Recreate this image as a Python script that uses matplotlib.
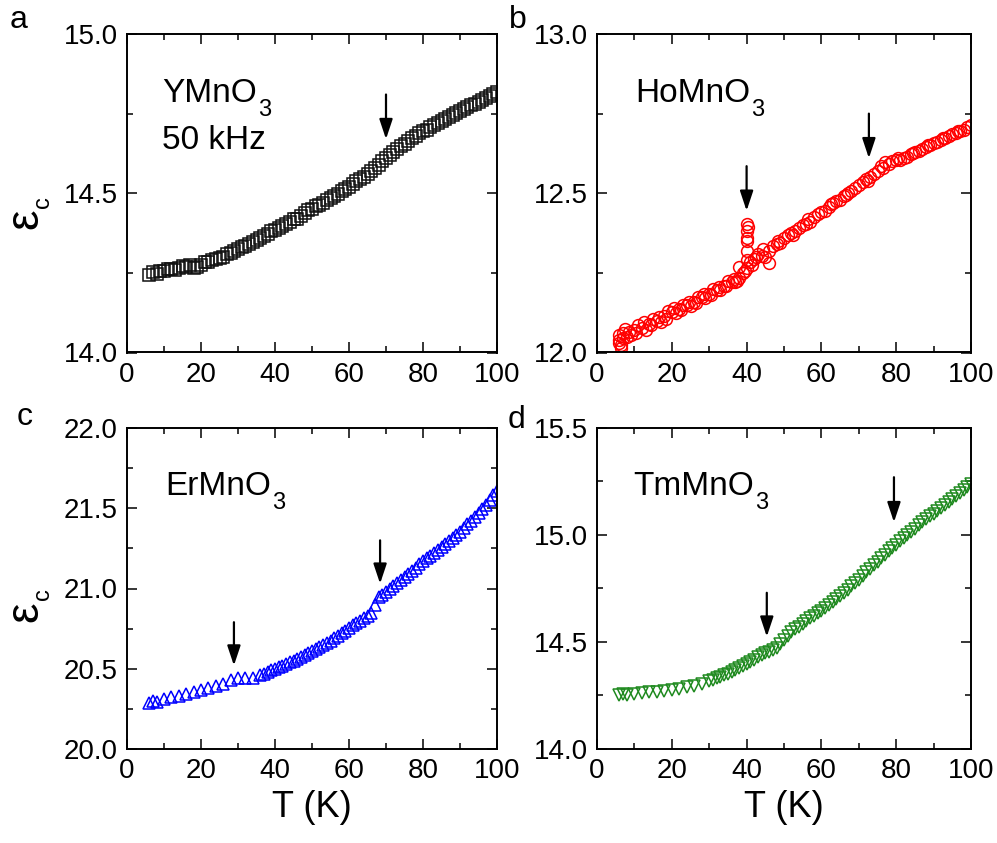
import numpy as np
import matplotlib
matplotlib.use("Agg")
import matplotlib.pyplot as plt
from matplotlib.ticker import MultipleLocator, FormatStrFormatter

plt.rcParams['font.family'] = ['Liberation Sans', 'DejaVu Sans']

# ---------------- data ----------------
T_Y = [6, 7, 8, 10, 12, 14, 16, 18, 20, 22, 24, 26, 28, 30, 32, 34, 36, 38, 40, 42, 44, 46, 48, 50,
       52, 54, 56, 58, 60, 62, 64, 66, 68, 70, 72, 74, 76, 78, 80, 82, 84, 86, 88, 90, 92, 94, 96, 98, 100]
eps_Y = [14.243, 14.252, 14.248, 14.256, 14.262, 14.265, 14.270, 14.266, 14.276, 14.284, 14.292, 14.300,
         14.312, 14.324, 14.334, 14.346, 14.358, 14.371, 14.386, 14.396, 14.410, 14.420, 14.437, 14.452,
         14.463, 14.478, 14.490, 14.506, 14.520, 14.537, 14.551, 14.571, 14.588, 14.610, 14.628, 14.647,
         14.663, 14.681, 14.695, 14.708, 14.720, 14.733, 14.746, 14.757, 14.770, 14.781, 14.794, 14.806, 14.817]
T_Y2 = [9, 11, 13, 15, 17, 19, 21, 23, 25, 27, 29, 31, 33, 35, 37, 39, 41, 43, 45, 47, 49, 51, 53, 55,
        57, 59, 61, 63, 65, 67, 69, 71, 73, 75, 77, 79, 81, 83, 85, 87, 89, 91, 93, 95, 97, 99]
eps_Y2 = [14.256, 14.262, 14.260, 14.272, 14.275, 14.270, 14.283, 14.290, 14.298, 14.310, 14.320, 14.330,
          14.342, 14.354, 14.366, 14.382, 14.392, 14.405, 14.418, 14.430, 14.446, 14.460, 14.470, 14.486,
          14.498, 14.514, 14.530, 14.545, 14.562, 14.580, 14.600, 14.620, 14.638, 14.656, 14.672, 14.690,
          14.700, 14.715, 14.726, 14.740, 14.752, 14.764, 14.776, 14.788, 14.800, 14.812]

T_Ho = [6, 6.5, 7, 7.5, 8, 10, 12, 14, 16, 18, 20, 22, 24, 26, 28, 30, 32, 34, 36, 38, 39,
        40, 40, 40, 40.2, 40.2, 40, 41, 42, 44, 46, 48, 50, 52, 54, 56, 58, 60, 62, 64, 66, 68,
        70, 72, 74, 76, 77, 78, 80, 82, 84, 86, 88, 90, 92, 94, 96, 98, 100]
eps_Ho = [12.040, 12.025, 12.060, 12.075, 12.050, 12.070, 12.078, 12.090, 12.100, 12.115, 12.128,
          12.138, 12.150, 12.160, 12.175, 12.185, 12.196, 12.208, 12.220, 12.235, 12.250,
          12.265, 12.290, 12.320, 12.350, 12.380, 12.405, 12.285, 12.295, 12.302, 12.320, 12.340,
          12.360, 12.375, 12.390, 12.405, 12.425, 12.440, 12.458, 12.475, 12.490, 12.508,
          12.525, 12.545, 12.560, 12.585, 12.598, 12.592, 12.604, 12.612, 12.622, 12.632, 12.645,
          12.657, 12.668, 12.680, 12.690, 12.700, 12.714]
T_Ho2 = [6, 7, 9, 11, 13, 15, 17, 19, 21, 23, 25, 27, 29, 31, 33, 35, 37, 38, 43, 45, 46, 47, 49,
         51, 53, 55, 57, 59, 61, 63, 65, 67, 69, 71, 73, 75, 79, 81, 83, 85, 87, 89, 91, 93,
         95, 97, 99]
eps_Ho2 = [12.030, 12.045, 12.055, 12.085, 12.070, 12.105, 12.095, 12.130, 12.125, 12.150, 12.145,
           12.175, 12.170, 12.200, 12.195, 12.225, 12.220, 12.267, 12.310, 12.300, 12.280, 12.335,
           12.345, 12.370, 12.380, 12.400, 12.410, 12.435, 12.445, 12.470, 12.480, 12.500, 12.515,
           12.535, 12.550, 12.570, 12.600, 12.605, 12.615, 12.630, 12.640, 12.650, 12.662, 12.675,
           12.685, 12.695, 12.708]
T_Ho3 = [5.8, 6.3, 8.5, 10.5, 12.5, 14.5, 16.5, 18.5, 20.5, 22.5, 24.5, 26.5, 28.5, 30.5, 32.5,
         34.5, 36.5, 37.5, 39.5, 40, 40.3, 41.5, 42.5, 44.5, 48.5, 52.5, 56.5, 62.5, 66.5, 72.5,
         76.5, 80.5, 84.5, 88.5, 92.5, 96.5]
eps_Ho3 = [12.055, 12.015, 12.065, 12.060, 12.095, 12.085, 12.110, 12.105, 12.140, 12.135, 12.160,
           12.155, 12.185, 12.180, 12.205, 12.210, 12.230, 12.225, 12.255, 12.360, 12.395, 12.275,
           12.300, 12.325, 12.350, 12.370, 12.420, 12.465, 12.495, 12.540, 12.580, 12.610, 12.625,
           12.650, 12.672, 12.695]

T_Er = [6, 7, 8, 10, 12, 14, 16, 18, 20, 22, 24, 26, 28, 30, 32, 34, 36, 38, 40, 42, 44, 46, 48, 50,
        52, 54, 56, 58, 60, 62, 64, 66, 67, 68, 70, 72, 74, 76, 78, 80, 82, 84, 86, 88, 90, 92, 94,
        96, 98, 100]
eps_Er = [20.287, 20.300, 20.295, 20.310, 20.322, 20.333, 20.345, 20.356, 20.366, 20.378, 20.390,
          20.402, 20.430, 20.440, 20.440, 20.445, 20.460, 20.480, 20.500, 20.520, 20.540, 20.560,
          20.585, 20.610, 20.635, 20.660, 20.690, 20.720, 20.755, 20.785, 20.815, 20.845, 20.900,
          20.945, 20.980, 21.015, 21.050, 21.090, 21.130, 21.170, 21.205, 21.240, 21.275, 21.315,
          21.355, 21.400, 21.445, 21.495, 21.550, 21.610]
T_Er2 = [37, 39, 41, 43, 45, 47, 49, 51, 53, 55, 57, 59, 61, 63, 65, 69, 71, 73, 75, 77, 79, 81,
         83, 85, 87, 89, 91, 93, 95, 97, 99]
eps_Er2 = [20.470, 20.490, 20.510, 20.530, 20.550, 20.572, 20.597, 20.622, 20.647, 20.675, 20.705,
           20.738, 20.770, 20.800, 20.830, 20.962, 20.998, 21.032, 21.070, 21.110, 21.150, 21.188,
           21.222, 21.258, 21.295, 21.335, 21.378, 21.422, 21.470, 21.522, 21.580]

T_Tm = [6, 7, 8, 10, 12, 14, 16, 18, 20, 22, 24, 26, 28, 30, 32, 34, 36, 38, 40, 42, 44, 46, 47, 48,
        50, 52, 54, 56, 58, 60, 62, 64, 66, 68, 70, 72, 74, 76, 78, 80, 82, 84, 86, 88, 90, 92, 94,
        96, 98, 100]
eps_Tm = [14.252, 14.256, 14.250, 14.258, 14.262, 14.265, 14.268, 14.272, 14.276, 14.282, 14.288,
          14.296, 14.306, 14.318, 14.330, 14.344, 14.360, 14.378, 14.398, 14.418, 14.438, 14.455,
          14.462, 14.470, 14.510, 14.545, 14.572, 14.598, 14.622, 14.645, 14.673, 14.701, 14.730,
          14.760, 14.790, 14.825, 14.858, 14.892, 14.925, 14.955, 14.985, 15.015, 15.045, 15.073,
          15.100, 15.128, 15.156, 15.184, 15.212, 15.240]
T_Tm2 = [31, 33, 35, 37, 39, 41, 43, 45, 49, 51, 53, 55, 57, 59, 61, 63, 65, 67, 69, 71, 73, 75, 77,
         79, 81, 83, 85, 87, 89, 91, 93, 95, 97, 99]
eps_Tm2 = [14.324, 14.337, 14.352, 14.369, 14.388, 14.408, 14.428, 14.447, 14.490, 14.528, 14.559,
           14.585, 14.610, 14.634, 14.659, 14.687, 14.716, 14.745, 14.775, 14.808, 14.842, 14.875,
           14.908, 14.940, 14.970, 15.000, 15.030, 15.059, 15.087, 15.114, 15.142, 15.170, 15.198,
           15.226]

# arrows: (T, top, tip)
arrows_a = [(70, 14.81, 14.67)]
arrows_b = [(40, 12.585, 12.445), (72.7, 12.75, 12.61)]
arrows_c = [(28.9, 20.79, 20.52), (68.4, 21.30, 21.03)]
arrows_d = [(45.4, 14.73, 14.525), (79.4, 15.27, 15.06)]

ylims = {'a': (14.0, 15.0), 'b': (12.0, 13.0), 'c': (20.0, 22.0), 'd': (14.0, 15.5)}
xticks = [0, 20, 40, 60, 80, 100]

# ---------------- figure ----------------
fig = plt.figure(figsize=(9.97, 8.43), dpi=100)
W, H = 997.0, 843.0

def mkax(l, r, t, b):
    return fig.add_axes([l / W, 1 - b / H, (r - l) / W, (b - t) / H])

ax_a = mkax(127, 497, 34, 352.5)
ax_b = mkax(597, 971, 34, 352.5)
ax_c = mkax(127, 497, 428, 749)
ax_d = mkax(597, 971, 428, 749)

def style(ax, key):
    ax.set_xlim(0, 100)
    ax.set_ylim(*ylims[key])
    ax.set_xticks(xticks)
    ax.xaxis.set_minor_locator(MultipleLocator(10))
    ax.yaxis.set_major_locator(MultipleLocator(0.5))
    ax.yaxis.set_minor_locator(MultipleLocator(0.25))
    ax.yaxis.set_major_formatter(FormatStrFormatter('%.1f'))
    ax.tick_params(which='both', direction='in', top=True, right=True, width=1.1,
                   labelsize=20, pad=6.5)
    ax.tick_params(which='major', length=7)
    ax.tick_params(which='minor', length=4)
    for s in ax.spines.values():
        s.set_linewidth(1.4)

def arrows(ax, lst):
    for x, y0, y1 in lst:
        ax.annotate('', xy=(x, y1), xytext=(x, y0),
                    arrowprops=dict(arrowstyle='-|>,head_length=0.6,head_width=0.2',
                                    color='k', lw=1.6, shrinkA=0, shrinkB=0,
                                    mutation_scale=20))

mk = dict(linestyle='none', markersize=8.5, markeredgewidth=1.1, markerfacecolor='none')

ax_a.plot(T_Y, eps_Y, marker='s', markeredgecolor='#111111', **mk)
ax_a.plot(T_Y2, eps_Y2, marker='s', markeredgecolor='#111111', **mk)
ax_b.plot(T_Ho, eps_Ho, marker='o', markeredgecolor='#ff0000', **mk)
ax_b.plot(T_Ho2, eps_Ho2, marker='o', markeredgecolor='#ff0000', **mk)
ax_b.plot(T_Ho3, eps_Ho3, marker='o', markeredgecolor='#ff0000', **mk)
ax_c.plot(T_Er, eps_Er, marker='^', markeredgecolor='#0000ff', **mk)
ax_c.plot(T_Er2, eps_Er2, marker='^', markeredgecolor='#0000ff', **mk)
ax_d.plot(T_Tm, eps_Tm, marker='v', markeredgecolor='#1f8a1f', **mk)
ax_d.plot(T_Tm2, eps_Tm2, marker='v', markeredgecolor='#1f8a1f', **mk)

for ax, k in [(ax_a, 'a'), (ax_b, 'b'), (ax_c, 'c'), (ax_d, 'd')]:
    style(ax, k)

arrows(ax_a, arrows_a)
arrows(ax_b, arrows_b)
arrows(ax_c, arrows_c)
arrows(ax_d, arrows_d)

renderer = fig.canvas.get_renderer()

def formula(ax, x, y, base, sub, size=24, subsize=17, drop=14):
    t = ax.text(x, y, base, fontsize=size, va='baseline', ha='left')
    bb = t.get_window_extent(renderer)
    px, py = ax.transData.transform((x, y))
    fig.text((bb.x1 + 1) / W, (py - drop) / H, sub, fontsize=subsize, va='baseline', ha='left')

formula(ax_a, 9.5, 14.786, 'YMnO', '3')
ax_a.text(9.5, 14.640, '50 kHz', fontsize=24, va='baseline', ha='left')
formula(ax_b, 10.2, 12.786, 'HoMnO', '3')
formula(ax_c, 10.3, 21.58, 'ErMnO', '3')
formula(ax_d, 9.6, 15.187, 'TmMnO', '3')

# x labels
ax_c.set_xlabel('T (K)', fontsize=26, labelpad=4)
ax_d.set_xlabel('T (K)', fontsize=26, labelpad=4)

# y labels (epsilon with lowered subscript c), rotated
def ylab(xbase, ystart):
    t = fig.text(xbase / W, (H - ystart) / H, 'ε', fontsize=33, rotation=90,
                 rotation_mode='anchor', ha='left', va='baseline')
    bb = t.get_window_extent(renderer)
    fig.text((xbase + 12) / W, (bb.y1 + 1) / H, 'c', fontsize=17, rotation=90,
             rotation_mode='anchor', ha='left', va='baseline')

ylab(37, 229)
ylab(37, 622)

# panel letters
for txt, x, y in [('a', 10, 28), ('b', 509, 28), ('c', 17, 425), ('d', 508, 428)]:
    fig.text(x / W, 1 - y / H, txt, fontsize=23, ha='left', va='baseline')

fig.savefig('out.png', dpi=100)
